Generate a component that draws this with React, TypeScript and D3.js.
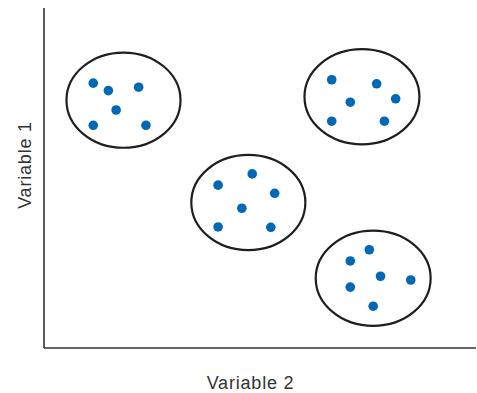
import React from "react";
import * as d3 from "d3";

const clusterNames = ["A", "B", "C", "D"];
const clusterCenterX = [18.4, 73.6, 47.3, 76.2];
const clusterCenterY = [72.9, 73.9, 42.8, 20.5];
const clusterRadiusX = [13.2, 13.3, 13.2, 13.3];
const clusterRadiusY = [14.0, 14.0, 14.0, 14.0];

const pointCluster = ["A","A","A","A","A","A","B","B","B","B","B","B","C","C","C","C","C","C","D","D","D","D","D","D"];
const pointX = [11.4, 14.9, 21.9, 16.7, 11.4, 23.6, 66.6, 77.0, 81.4, 70.9, 66.6, 78.8, 40.3, 48.2, 53.4, 45.8, 40.3, 52.5, 75.3, 70.9, 77.9, 84.9, 70.9, 76.2];
const pointY = [77.9, 75.7, 76.7, 70.0, 65.5, 65.5, 78.9, 77.7, 73.3, 72.3, 66.7, 66.7, 47.9, 51.2, 45.5, 41.1, 35.6, 35.5, 28.9, 25.6, 21.1, 20.0, 17.9, 12.3];

const xLabel = "Variable 2";
const yLabel = "Variable 1";

const W = 477;
const H = 393;
const left = 44;
const right = 476;
const top = 8;
const bottom = 348;

export default function App() {
  const x = d3.scaleLinear().domain([0, 100]).range([left, right]);
  const y = d3.scaleLinear().domain([0, 100]).range([bottom, top]);
  const font = "'Liberation Sans', Arial, sans-serif";
  return (
    <svg width={W} height={H} style={{ position: "absolute", left: 0, top: 0, background: "#fff" }}>
      <line x1={left} y1={top} x2={left} y2={bottom} stroke="#333" strokeWidth={1.6} />
      <line x1={left} y1={bottom} x2={right} y2={bottom} stroke="#333" strokeWidth={1.6} />
      {clusterNames.map((c, i) => (
        <ellipse
          key={c}
          cx={x(clusterCenterX[i])}
          cy={y(clusterCenterY[i])}
          rx={x(clusterRadiusX[i]) - x(0)}
          ry={y(0) - y(clusterRadiusY[i])}
          fill="none"
          stroke="#1e1e1e"
          strokeWidth={2.2}
        />
      ))}
      {pointX.map((px, i) => (
        <circle key={i} cx={x(px)} cy={y(pointY[i])} r={4.8} fill="#0068b5" data-cluster={pointCluster[i]} />
      ))}
      <text x={(left + right) / 2 - 9.5} y={388.5} textAnchor="middle" fontFamily={font} fontSize={18} letterSpacing={0.8} fill="#333">
        {xLabel}
      </text>
      <text
        transform={`translate(30.5,${(top + bottom) / 2 - 13}) rotate(-90)`}
        textAnchor="middle"
        fontFamily={font}
        fontSize={18}
        letterSpacing={0.8}
        fill="#333"
      >
        {yLabel}
      </text>
    </svg>
  );
}
